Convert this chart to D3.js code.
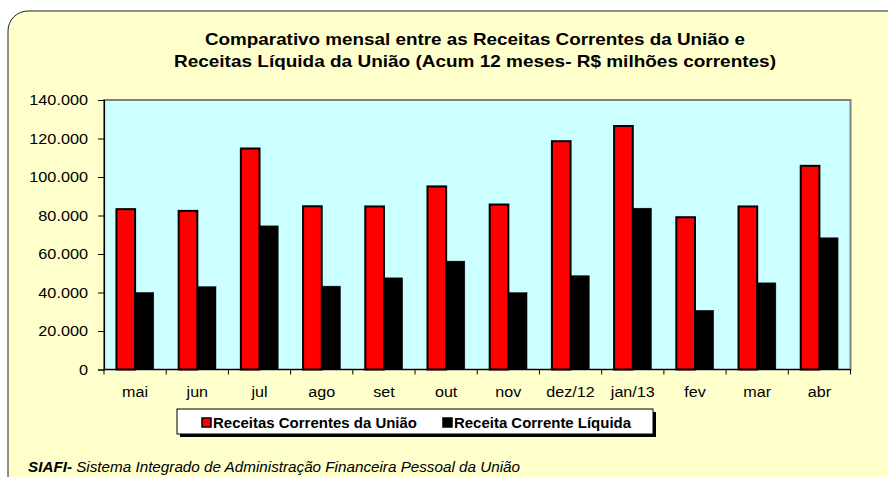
<!DOCTYPE html>
<html><head><meta charset="utf-8">
<script src="https://cdn.jsdelivr.net/npm/d3@7"></script>
<style>body{margin:0;background:#fff;}svg{display:block;}</style>
</head><body>
<svg id="c" width="888" height="477"></svg>
<script>
const categories = ["mai","jun","jul","ago","set","out","nov","dez/12","jan/13","fev","mar","abr"];
const receitasCorrentes = [83300,82400,114800,84800,84700,95100,85700,118600,126500,79100,84700,105800];
const receitaLiquida = [40000,43000,74600,43300,47600,56300,39900,48700,83800,30700,45000,68400];
const yTicks = [0,20000,40000,60000,80000,100000,120000,140000];
const seriesNames = ["Receitas Correntes da União","Receita Corrente Líquida"];
const titleLines = ["Comparativo mensal entre as Receitas Correntes da União e","Receitas Líquida da União  (Acum 12 meses- R$ milhões correntes)"];

const svg = d3.select("#c");
const font = "'Liberation Sans', Arial, sans-serif";

function stretch(sel, f){
  sel.each(function(){
    const w = this.getComputedTextLength();
    d3.select(this).attr("textLength", w*f).attr("lengthAdjust","spacingAndGlyphs");
  });
}

svg.append("rect").attr("x",8).attr("y",11).attr("width",900).attr("height",490)
  .attr("rx",20).attr("fill","#FFFFCC").attr("stroke","#222").attr("stroke-width",1);

const L=104, R=850.5, T=100, B=369.5;
const x = d3.scaleBand().domain(categories).range([L,R]).paddingInner(0.4).paddingOuter(0.2);
const y = d3.scaleLinear().domain([0,140000]).range([B,T]);
const x1 = d3.scaleBand().domain([0,1]).range([0,x.bandwidth()]);

// plot area
svg.append("rect").attr("x",L).attr("y",T).attr("width",R-L).attr("height",B-T)
  .attr("fill","#CCFFFF").attr("stroke","#808080").attr("stroke-width",2);

// title
const tt = svg.append("g").selectAll("text").data(titleLines).join("text")
  .attr("x",475).attr("y",(d,i)=>44.5+i*22).attr("text-anchor","middle")
  .attr("font-family",font).attr("font-weight","bold").attr("font-size",16.5).attr("fill","#000")
  .text(d=>d);
tt.attr("textLength",(d,i)=>i===0?540:602).attr("lengthAdjust","spacingAndGlyphs");

// bars
const colors = ["#FF0000","#000000"];
const g = svg.append("g");
categories.forEach((c,i)=>{
  [receitasCorrentes[i], receitaLiquida[i]].forEach((v,s)=>{
    g.append("rect").attr("x",x(c)+x1(s)).attr("y",y(v)).attr("width",x1.bandwidth())
      .attr("height",B-y(v)).attr("fill",colors[s]).attr("stroke","#000").attr("stroke-width",s===0?2:0.5);
  });
});

// axes
const yAxis = d3.axisLeft(y).tickValues(yTicks).tickSize(6).tickPadding(10)
  .tickFormat(d=>d===0?"0":d3.format(",")(d).replace(/,/g,"."));
const ya = svg.append("g").attr("transform",`translate(${L},0)`).call(yAxis);
ya.select(".domain").attr("stroke","#000").attr("stroke-width",1.2);
ya.selectAll(".tick line").attr("stroke","#000");
ya.selectAll("text").attr("font-family",font).attr("font-size",14.5).attr("fill","#000");
stretch(ya.selectAll("text"),1.12);

const xa = svg.append("g").attr("transform",`translate(0,${B})`);
xa.append("line").attr("x1",L).attr("x2",R).attr("stroke","#000").attr("stroke-width",1.2);
const bounds = d3.range(categories.length+1).map(i=>L+i*(R-L)/categories.length);
xa.selectAll(".tk").data(bounds).join("line").attr("x1",d=>d).attr("x2",d=>d).attr("y1",0).attr("y2",5).attr("stroke","#000");
const xl = xa.selectAll("text").data(categories).join("text")
  .attr("x",d=>x(d)+x.bandwidth()/2).attr("y",27).attr("text-anchor","middle")
  .attr("font-family",font).attr("font-size",14).attr("fill","#000").text(d=>d);
stretch(xl,1.15);

// legend
svg.append("rect").attr("x",180).attr("y",412).attr("width",476).attr("height",25).attr("fill","#000");
svg.append("rect").attr("x",177).attr("y",409).attr("width",476).attr("height",25).attr("fill","#fff").attr("stroke","#000").attr("stroke-width",1);
const leg = [{x:202,t:seriesNames[0],c:"#FF0000"},{x:443,t:seriesNames[1],c:"#000"}];
leg.forEach((d,i)=>{
  svg.append("rect").attr("x",d.x).attr("y",418).attr("width",9).attr("height",9).attr("fill",d.c).attr("stroke","#000").attr("stroke-width",1.5);
  const t = svg.append("text").attr("x",d.x+11).attr("y",428).attr("font-family",font).attr("font-weight","bold")
    .attr("font-size",15.5).attr("fill","#000").text(d.t);
  t.attr("textLength", i===0?204:177).attr("lengthAdjust","spacingAndGlyphs");
});

// footer
const ft = svg.append("text").attr("x",28).attr("y",472).attr("font-family",font).attr("font-style","italic").attr("font-size",14).attr("fill","#000")
  .attr("textLength",492).attr("lengthAdjust","spacingAndGlyphs");
ft.append("tspan").attr("font-weight","bold").text("SIAFI-");
ft.append("tspan").text(" Sistema Integrado de Administração Financeira Pessoal da União");
</script>
</body></html>
